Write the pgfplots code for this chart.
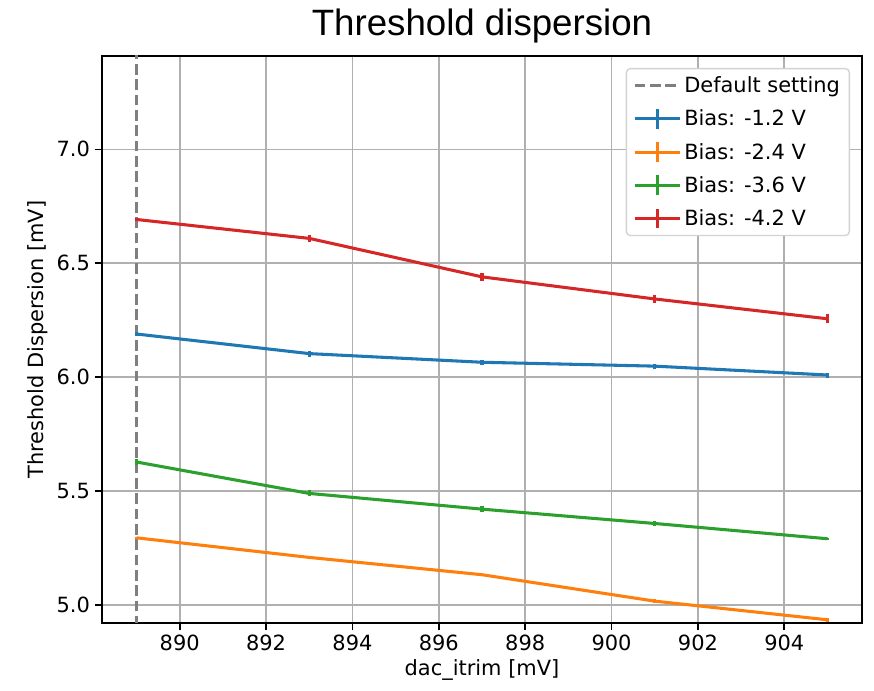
\documentclass[border=0pt]{standalone}
\usepackage{fontspec}
\setmainfont{DejaVu Sans}
\newfontfamily\titlefont{Liberation Sans}
\usepackage{pgfplots}
\pgfplotsset{compat=1.18}
\definecolor{tabblue}{HTML}{1F77B4}
\definecolor{taborange}{HTML}{FF7F0E}
\definecolor{tabgreen}{HTML}{2CA02C}
\definecolor{tabred}{HTML}{D62728}
\definecolor{gridgray}{HTML}{B0B0B0}
\definecolor{defgray}{HTML}{7F7F7F}

\pgfplotsset{
  errline/.style={line width=2.3pt, mark=none,
    error bars/y dir=both, error bars/y explicit, error bars/error mark=none,
    error bars/error bar style={line width=2.3pt}},
  crosslegend/.style={legend image code/.code={
    \draw[line width=2.3pt,##1] (0cm,0cm) -- (1.2cm,0cm);
    \draw[line width=2.3pt,##1] (0.6cm,-0.26cm) -- (0.6cm,0.26cm);}},
}

\begin{document}
\begin{tikzpicture}
\useasboundingbox (-76.5pt,-51pt) rectangle (579pt,467.25pt);
\begin{axis}[
  scale only axis,
  width=570pt, height=425.25pt,
  xmin=888.2, xmax=905.8,
  ymin=4.92, ymax=7.41,
  xtick={890,892,...,904},
  ytick={5.0,5.5,6.0,6.5,7.0},
  yticklabel style={/pgf/number format/.cd,fixed,fixed zerofill,precision=1},
  /pgf/number format/assume math mode=true,
  tick label style={font=\fontsize{15.7}{18}\selectfont},
  label style={font=\fontsize{15.7}{18}\selectfont},
  xlabel={dac\_itrim [mV]},
  ylabel={Threshold Dispersion [mV]},
  title={\titlefont\fontsize{27.5}{30}\selectfont Threshold dispersion},
  title style={yshift=0pt},
  tick align=outside, tick pos=left,
  major tick length=5.5pt,
  every tick/.style={line width=1.2pt, black},
  axis line style={line width=1.2pt},
  grid=major,
  major grid style={line width=1.2pt, gridgray},
  legend cell align=left,
  legend style={at={(1,1)}, anchor=north east, xshift=-9pt, yshift=-9pt,
    draw=gray!35, line width=1pt, rounded corners=3pt,
    font=\fontsize{15.7}{18}\selectfont, row sep=7.5pt,
    inner xsep=5pt, inner ysep=4pt},
]
\addplot[defgray, line width=2.3pt, dash pattern=on 8pt off 3.5pt,
  legend image code/.code={\draw[defgray, line width=2.3pt, dash pattern=on 8pt off 3.5pt] (0cm,0cm) -- (1.2cm,0cm);}]
  coordinates {(889,4.5) (889,7.6)};
\addlegendentry{Default setting}

\addplot[tabblue, errline, crosslegend] coordinates {
  (889,6.189) +- (0,0.010)
  (893,6.103) +- (0,0.013)
  (897,6.065) +- (0,0.010)
  (901,6.048) +- (0,0.011)
  (905,6.009) +- (0,0.011)
};
\addlegendentry{Bias: -1.2 V}

\addplot[taborange, errline, crosslegend] coordinates {
  (889,5.294) +- (0,0.005)
  (893,5.208) +- (0,0.008)
  (897,5.132) +- (0,0.005)
  (901,5.016) +- (0,0.008)
  (905,4.934) +- (0,0.008)
};
\addlegendentry{Bias: -2.4 V}

\addplot[tabgreen, errline, crosslegend] coordinates {
  (889,5.627) +- (0,0.011)
  (893,5.489) +- (0,0.013)
  (897,5.420) +- (0,0.014)
  (901,5.357) +- (0,0.010)
  (905,5.290) +- (0,0.005)
};
\addlegendentry{Bias: -3.6 V}

\addplot[tabred, errline, crosslegend] coordinates {
  (889,6.692) +- (0,0.007)
  (893,6.609) +- (0,0.017)
  (897,6.440) +- (0,0.017)
  (901,6.343) +- (0,0.017)
  (905,6.256) +- (0,0.020)
};
\addlegendentry{Bias: -4.2 V}
\end{axis}
\end{tikzpicture}
\end{document}
